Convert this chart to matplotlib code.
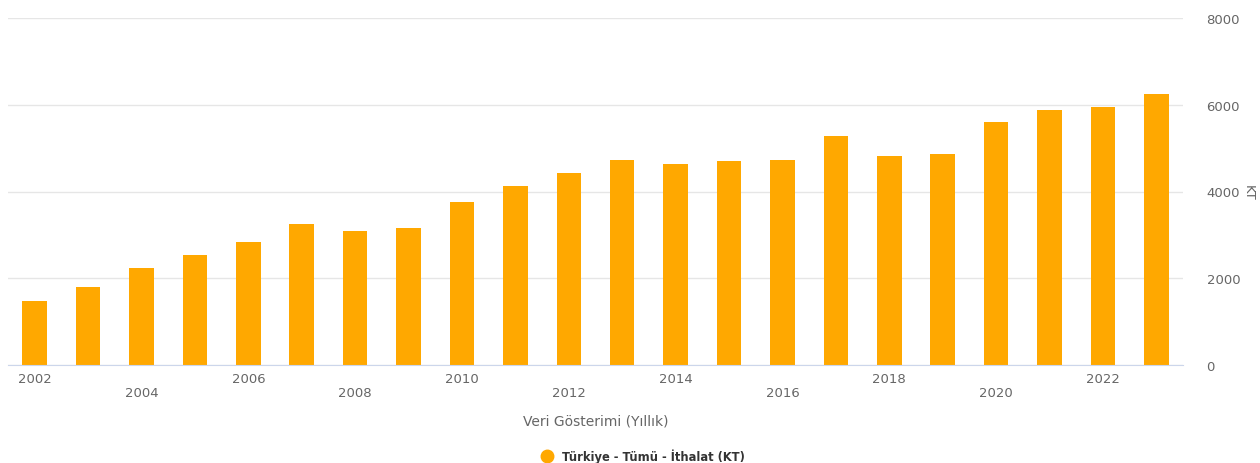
import matplotlib.pyplot as plt
from matplotlib.lines import Line2D
import matplotlib.transforms as mtransforms

years = list(range(2002, 2024))
imports_kt = [1480, 1805, 2228, 2536, 2835, 3258, 3082, 3151, 3750, 4126, 4426,
              4733, 4628, 4711, 4734, 5281, 4827, 4873, 5612, 5882, 5951, 6259]
label_years = list(range(2002, 2024, 2))
y_ticks = [0, 2000, 4000, 6000, 8000]

bar_color = '#ffa800'
text_color = '#666666'

plt.rcParams['font.family'] = ['DejaVu Sans']

fig = plt.figure(figsize=(12.6, 4.64), dpi=100)
ax = fig.add_axes([8 / 1260, 98 / 464, 1175 / 1260, 347 / 464])

ax.bar(years, imports_kt, width=0.46, color=bar_color, zorder=3)

ax.set_xlim(years[0] - 0.5, years[-1] + 0.5)
ax.set_ylim(0, 8000)

# y axis on the right side
ax.yaxis.tick_right()
ax.set_yticks(y_ticks)
ax.set_yticklabels([str(v) for v in y_ticks], fontsize=9.5, color=text_color)
ax.tick_params(axis='y', length=0, pad=17)
ax.grid(axis='y', color='#e6e6e6', linewidth=1, zorder=0)
ax.yaxis.set_label_position('right')
ax.set_ylabel('KT', rotation=-90, fontsize=9.5, color=text_color, labelpad=6,
              va='center')

# x axis: staggered year labels
ax.set_xticks([])
trans = mtransforms.blended_transform_factory(ax.transData, ax.transAxes)
for i, yr in enumerate(label_years):
    off = -14 / 347 if i % 2 == 0 else -27.5 / 347
    ax.text(yr, off, str(yr), transform=trans, ha='center', va='center',
            fontsize=9.5, color=text_color)

for s in ['top', 'left', 'right']:
    ax.spines[s].set_visible(False)
ax.spines['bottom'].set_color('#ccd6eb')
ax.spines['bottom'].set_zorder(4)

fig.text(596 / 1260, 1 - 422 / 464, 'Veri Gösterimi (Yıllık)', ha='center',
         va='center', fontsize=10, color=text_color)

handle = Line2D([], [], marker='o', linestyle='none', markersize=9,
                markerfacecolor=bar_color, markeredgecolor=bar_color)
fig.legend([handle], ['Türkiye - Tümü - İthalat (KT)'], loc='center',
           bbox_to_anchor=(640 / 1260, 1 - 457 / 464), frameon=False,
           handletextpad=0.3, prop={'weight': 'bold', 'size': 8.3},
           labelcolor='#333333')

fig.savefig('out.png', dpi=100)
